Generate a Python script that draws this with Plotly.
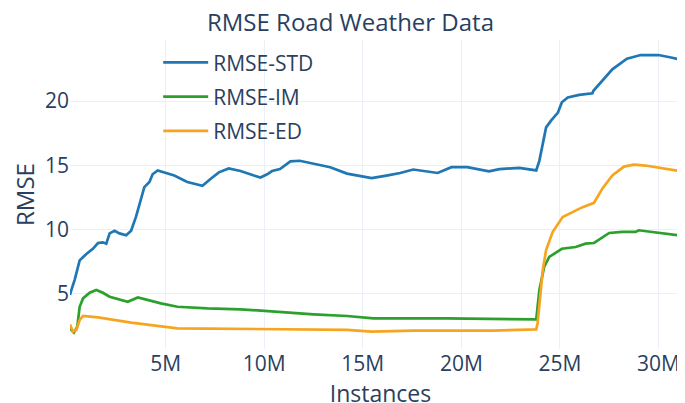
import plotly.graph_objects as go

# instances in millions
std_x = [0.15, 0.19, 0.39, 0.64, 0.98, 1.31, 1.57, 1.82, 1.99, 2.16, 2.41, 2.66, 3.0, 3.25, 3.5,
         3.75, 3.92, 4.18, 4.34, 4.6, 4.93, 5.44, 6.1, 6.87, 7.29, 7.7, 8.2, 8.8, 9.48, 9.81,
         10.15, 10.4, 10.8, 11.33, 11.8, 12.5, 13.35, 14.2, 15.45, 16.2, 16.9, 17.56, 18.2,
         18.8, 19.5, 20.3, 21.4, 21.93, 22.94, 23.8, 23.96, 24.3, 24.55, 24.9, 25.1, 25.4,
         25.98, 26.65, 26.7, 27.15, 27.66, 28.4, 29.1, 30.0, 30.7, 31.65]
std_y = [4.9, 5.15, 6.1, 7.6, 8.1, 8.5, 8.95, 9.0, 8.9, 9.7, 9.9, 9.7, 9.55, 9.9, 11.0,
         12.5, 13.3, 13.7, 14.3, 14.6, 14.45, 14.2, 13.7, 13.4, 13.95, 14.45, 14.75, 14.55, 14.2, 14.05,
         14.3, 14.55, 14.7, 15.3, 15.35, 15.15, 14.85, 14.35, 14.0, 14.2, 14.4, 14.67, 14.53,
         14.4, 14.85, 14.85, 14.53, 14.7, 14.8, 14.6, 15.36, 17.95, 18.47, 19.1, 19.9, 20.27,
         20.48, 20.6, 20.8, 21.6, 22.47, 23.3, 23.58, 23.58, 23.37, 23.0]

im_x = [0.15, 0.22, 0.35, 0.52, 0.64, 0.81, 1.15, 1.48, 1.82, 2.16, 2.58, 3.08, 3.59, 4.09,
        4.76, 5.6, 7.12, 8.8, 10.5, 12.5, 14.2, 15.54, 19.2, 23.8, 23.96, 24.2, 24.46, 25.1,
        25.8, 26.3, 26.73, 27.5, 28.16, 28.84, 29.0, 31.65]
im_y = [2.3, 2.18, 1.98, 2.44, 3.99, 4.64, 5.08, 5.29, 5.08, 4.77, 4.59, 4.38, 4.71, 4.51,
        4.25, 3.99, 3.86, 3.79, 3.6, 3.4, 3.27, 3.09, 3.09, 3.0, 5.29, 7.09, 7.87, 8.5,
        8.64, 8.9, 8.95, 9.73, 9.81, 9.81, 9.94, 9.42]

ed_x = [0.15, 0.19, 0.3, 0.47, 0.64, 0.81, 1.57, 3.25, 4.6, 5.6, 7.12, 10.5, 14.2, 15.45,
        17.56, 21.6, 23.8, 23.87, 24.13, 24.3, 24.63, 25.14, 25.64, 26.15, 26.73, 27.16,
        27.66, 28.25, 28.75, 29.34, 31.65]
ed_y = [2.6, 2.44, 2.05, 2.18, 2.96, 3.27, 3.16, 2.75, 2.5, 2.31, 2.29, 2.23, 2.19, 2.05,
        2.13, 2.13, 2.23, 2.7, 6.84, 8.4, 9.8, 10.97, 11.36, 11.74, 12.08, 13.2,
        14.2, 14.9, 15.05, 14.98, 14.42]

series = [
    ('RMSE-STD', std_x, std_y, '#1f77b4'),
    ('RMSE-IM', im_x, im_y, '#2ca02c'),
    ('RMSE-ED', ed_x, ed_y, '#f7a520'),
]

fig = go.Figure()
for name, xs, ys, color in series:
    fig.add_trace(go.Scatter(
        x=[v * 1e6 for v in xs], y=ys, mode='lines', name=name,
        legendgroup=name, line=dict(color=color, width=2.7),
    ))

fig.update_layout(
    template='plotly_white',
    width=685, height=403,
    margin=dict(l=62, r=2, t=32, b=62),
    font=dict(family='Open Sans', color='#2a3f5f', size=21),
    title=dict(text='RMSE Road Weather Data', x=0.5, xanchor='center',
               y=0.985, yanchor='top', font=dict(size=24)),
    xaxis=dict(title=dict(text='Instances', font=dict(size=23), standoff=2),
               range=[0.15e6, 31.65e6], dtick=5e6, showline=False, zeroline=False,
               automargin=False),
    yaxis=dict(title=dict(text='RMSE', font=dict(size=24), standoff=16),
               range=[0.7, 24.75], dtick=5, zeroline=False, automargin=False),
    legend=dict(x=0.142, y=0.993, xanchor='left', yanchor='top', itemwidth=45,
                bgcolor='rgba(0,0,0,0)', tracegroupgap=4, font=dict(size=21)),
)

fig.write_html('out.html')
